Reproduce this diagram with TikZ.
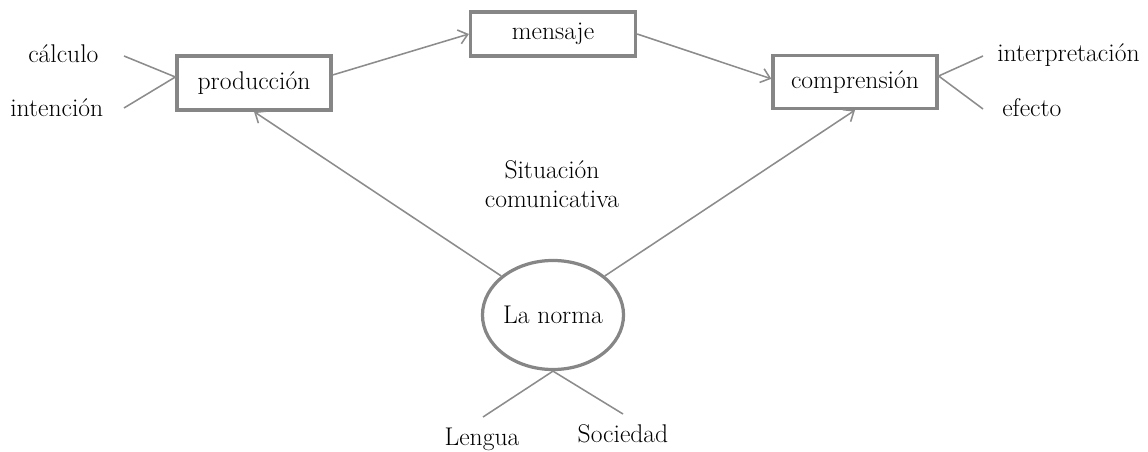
\documentclass[tikz,border=0pt]{standalone}
\usetikzlibrary{
    positioning,
    arrows.meta,
    shapes.geometric
}

\begin{document}
\begin{tikzpicture}[x=0.025cm, y=-0.025cm,
        every node/.style={font=\fontsize{18.2}{21}\selectfont},
        caja/.style={draw=gray!95, line width=2.3pt, minimum width=3.85cm, minimum height=1.35cm, inner sep=0pt},
        enlace/.style={draw=gray!90, line width=1.1pt},
        flecha/.style={enlace, -{Straight Barb[length=2.2mm, width=3.6mm, line width=1.1pt]}}]
        \useasboundingbox (0,0) rectangle (1148,452);

        % Cajas del proceso
        \node[caja] (prod) at (254,83) {producción};
        \node[caja, minimum width=4.125cm, minimum height=1.1cm] (msg) at (553,34) {mensaje};
        \node[caja, minimum width=4.1cm, minimum height=1.325cm] (comp) at (855,82) {comprensión};

        % La norma
        \node[ellipse, draw=gray!95, line width=2.3pt, minimum width=3.525cm, minimum height=2.725cm, inner sep=0pt] (norma) at (553,315) {La norma};
        \node[align=center] (sit) at (552,184) {Situación\\comunicativa};

        % Flechas
        \draw[flecha] ([yshift=0.2cm]prod.east) -- (msg.west);
        \draw[flecha] (msg.east) -- ([yshift=0.08cm]comp.west);
        \draw[flecha] (norma.143) -- (prod.south);
        \draw[flecha] (norma.37) -- (comp.south);

        % Producción: cálculo e intención
        \node[anchor=base west, inner sep=0pt] (calcu) at (28,63) {cálculo};
        \node[anchor=base west, inner sep=0pt] (inten) at (10,117) {intención};
        \coordinate (calcu-e) at (124,56);
        \coordinate (inten-e) at (124,108);
        \draw[enlace] (calcu-e) -- ([yshift=0.15cm]prod.west) -- (inten-e);

        % Comprensión: interpretación y efecto
        \node[anchor=base west, inner sep=0pt] (interp) at (997,62) {interpretación};
        \node[anchor=base west, inner sep=0pt] (efec) at (1002,117) {efecto};
        \coordinate (interp-e) at (983,56);
        \coordinate (efec-e) at (983,109);
        \draw[enlace] (interp-e) -- ([yshift=0.15cm]comp.east) -- (efec-e);

        % Lengua y sociedad
        \node[anchor=base] (leng) at (482,445) {Lengua};
        \node[anchor=base] (soc) at (623,442) {Sociedad};
        \coordinate (leng-e) at (483,417);
        \coordinate (soc-e) at (623,414);
        \draw[enlace] (leng-e) -- (norma.south) -- (soc-e);
    \end{tikzpicture}
\end{document}
